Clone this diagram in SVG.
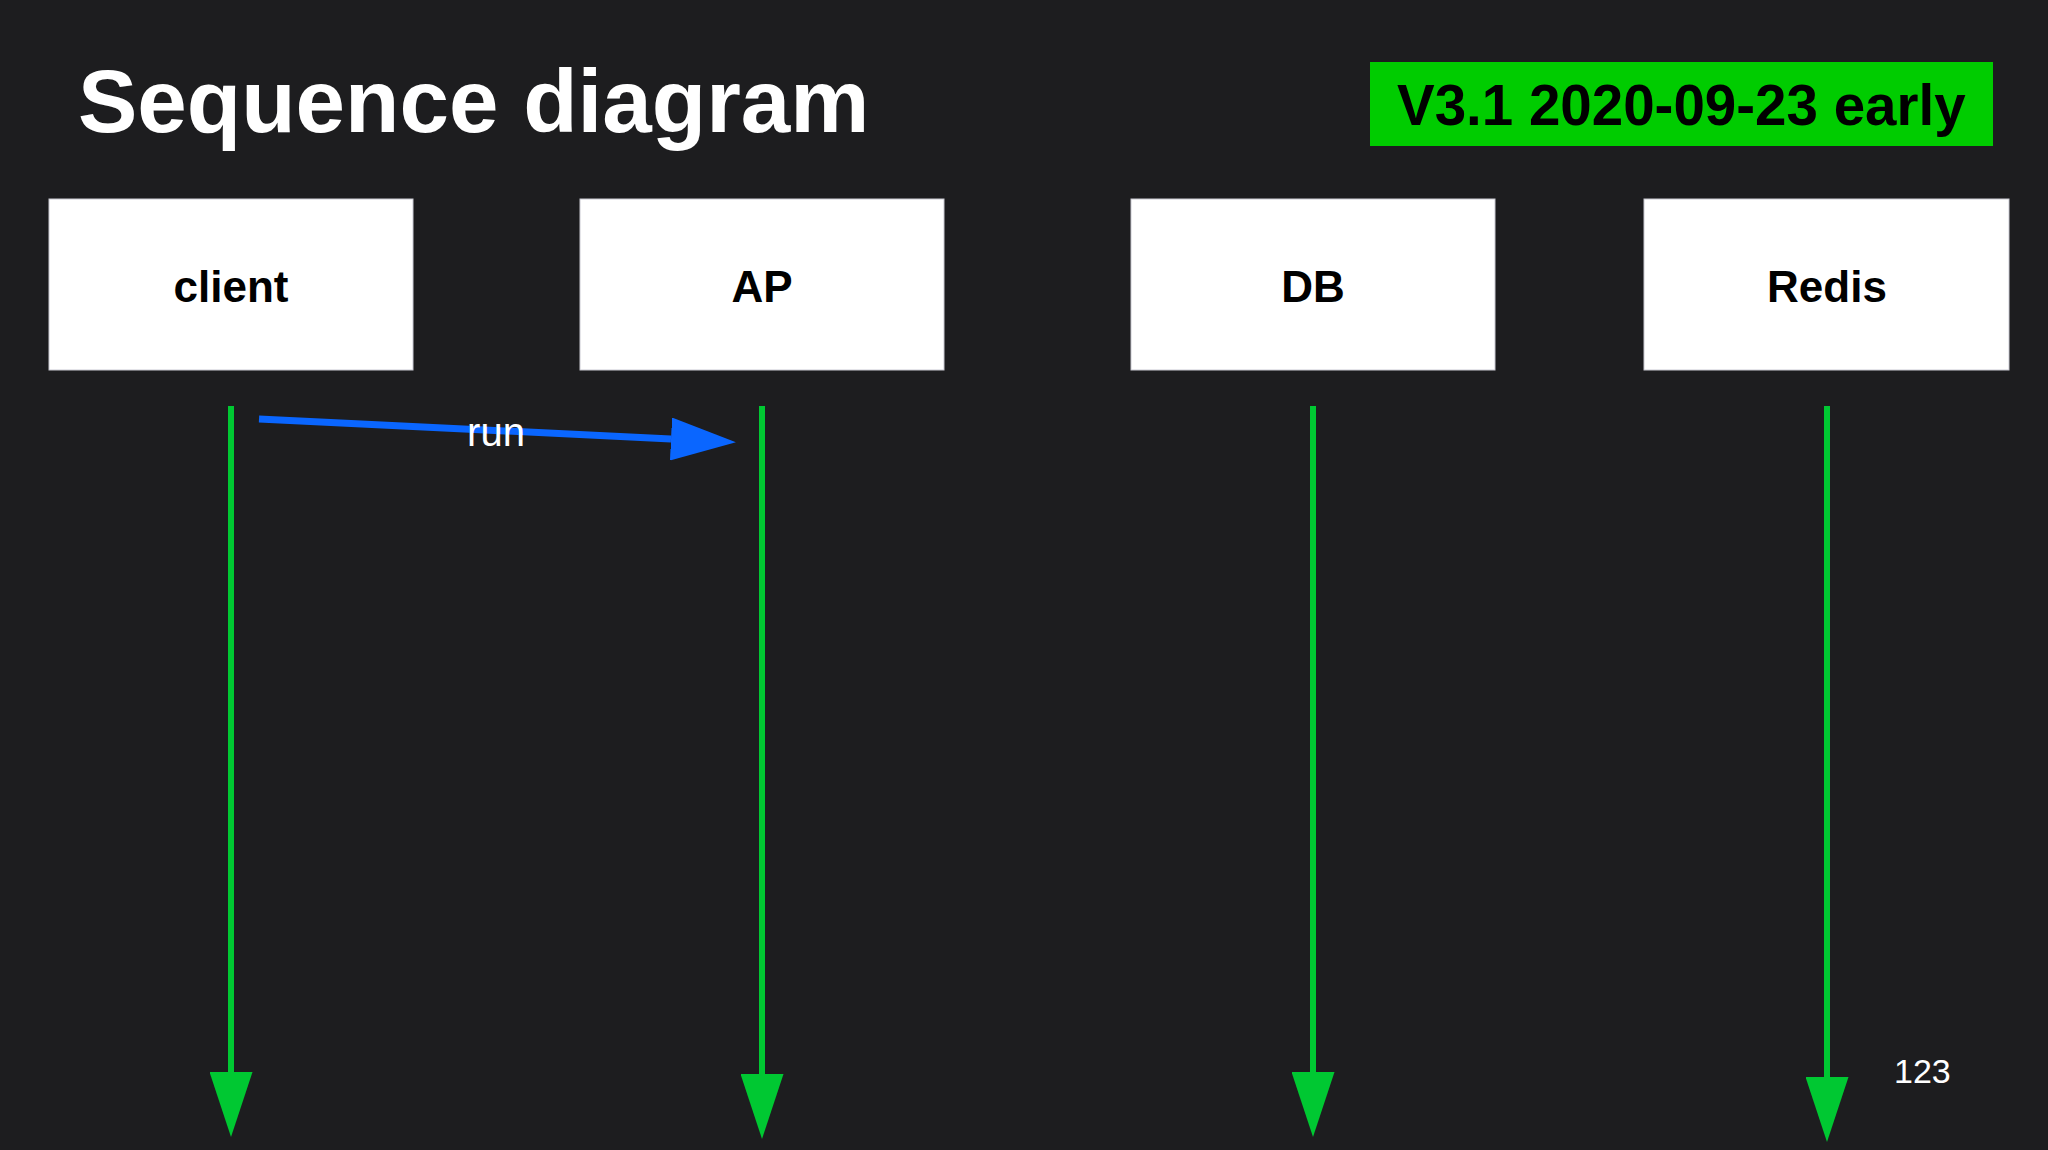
<svg xmlns="http://www.w3.org/2000/svg" width="2048" height="1150" viewBox="0 0 2048 1150">
<style>
.bg{fill:#1d1d1f}
.node rect{fill:#ffffff;stroke:#c9c9d2;stroke-width:1}
.node text{font-family:"Liberation Sans",Arial,sans-serif;font-weight:bold;font-size:44px;fill:#000;text-anchor:middle}
.life{stroke:#00c832;stroke-width:6;fill:none}
.msg{stroke:#0a66ff;stroke-width:7;fill:none}
.title{font-family:"Liberation Sans",Arial,sans-serif;font-weight:bold;font-size:89px;fill:#ffffff}
.badge{font-family:"Liberation Sans",Arial,sans-serif;font-weight:bold;font-size:56.5px;fill:#000}
.lbl{font-family:"Liberation Sans",Arial,sans-serif;font-size:40px;fill:#ffffff;text-anchor:middle}
.pg{font-family:"Liberation Sans",Arial,sans-serif;font-size:34px;fill:#ffffff}
</style>
<defs>
<marker id="ghead" viewBox="0 0 65 43" refX="0" refY="21.5" markerWidth="65" markerHeight="43" markerUnits="userSpaceOnUse" orient="auto">
<path d="M0,0 L65,21.5 L0,43 z" fill="#00c832"/>
</marker>
<marker id="bhead" viewBox="0 0 65 43" refX="0" refY="21.5" markerWidth="65" markerHeight="43" markerUnits="userSpaceOnUse" orient="auto">
<path d="M0,0 L65,21.5 L0,43 z" fill="#0a66ff"/>
</marker>
</defs>
<rect class="bg" x="0" y="0" width="2048" height="1150"/>
<text class="title" x="78" y="132">Sequence diagram</text>
<g id="version">
<rect x="1370" y="62" width="623" height="84" fill="#00cc00"/>
<text class="badge" x="1397" y="125">V3.1 2020-09-23 early</text>
</g>
<g id="client" class="node">
<rect x="49" y="199" width="364" height="171"/>
<text x="231" y="302">client</text>
</g>
<g id="AP" class="node">
<rect x="580" y="199" width="364" height="171"/>
<text x="762" y="302">AP</text>
</g>
<g id="DB" class="node">
<rect x="1131" y="199" width="364" height="171"/>
<text x="1313" y="302">DB</text>
</g>
<g id="Redis" class="node">
<rect x="1644" y="199" width="365" height="171"/>
<text x="1827" y="302">Redis</text>
</g>
<g id="connectors">
<line class="life" x1="231" y1="406" x2="231" y2="1072" marker-end="url(#ghead)"/>
<line class="life" x1="762" y1="406" x2="762" y2="1074" marker-end="url(#ghead)"/>
<line class="life" x1="1313" y1="406" x2="1313" y2="1072" marker-end="url(#ghead)"/>
<line class="life" x1="1827" y1="406" x2="1827" y2="1077" marker-end="url(#ghead)"/>
<line class="msg" x1="259" y1="419" x2="671" y2="439" marker-end="url(#bhead)"/>
<text class="lbl" x="496" y="446">run</text>
</g>
<text class="pg" x="1894" y="1083">123</text>
</svg>
